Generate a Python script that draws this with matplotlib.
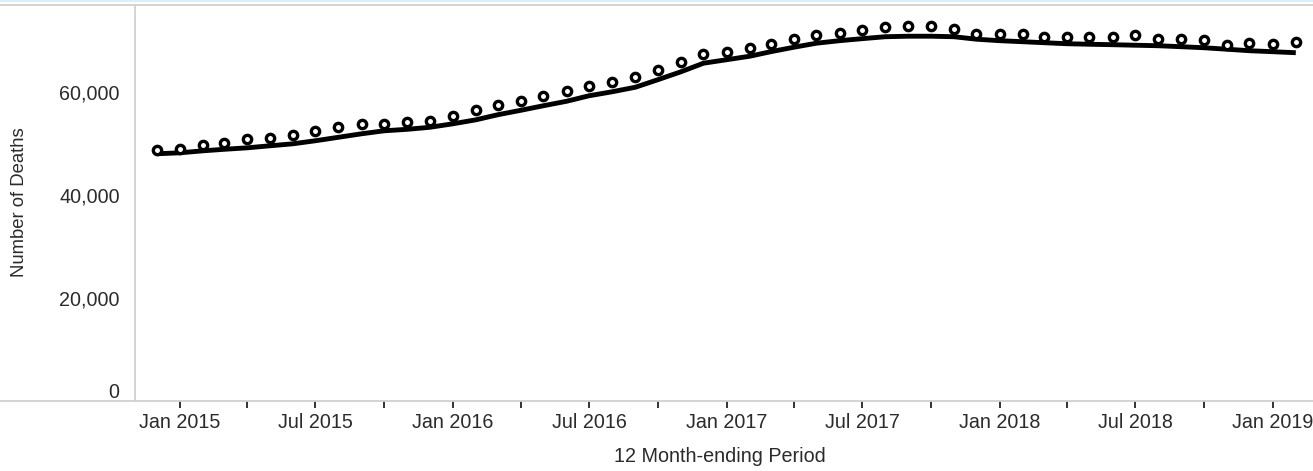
import matplotlib
matplotlib.use("Agg")
import matplotlib.pyplot as plt
import matplotlib.dates as mdates
import matplotlib.transforms as mtransforms
from matplotlib.lines import Line2D
import numpy as np
import pandas as pd

plt.rcParams['font.family'] = ['Liberation Sans', 'DejaVu Sans']

# 12 month-ending periods (Dec 2014 .. Feb 2019)
months = pd.date_range("2014-12-01", "2019-02-01", freq="MS")

# circles (predicted)
predicted = [48710, 49040, 49820, 50150, 50930, 51120, 51760, 52410, 53260, 53900,
             53900, 54160, 54490, 55460, 56630, 57600, 58240, 59220, 60330, 61300,
             61940, 62990, 64280, 65830, 67530, 67920, 68640, 69410, 70390, 71220,
             71550, 72060, 72720, 72980, 72840, 72390, 71420, 71420, 71420, 70780,
             70780, 70780, 70780, 71220, 70390, 70390, 70110, 69280, 69610, 69470,
             69730]

# line (reported)
reported = [48070, 48260, 48650, 48940, 49230, 49620, 50010, 50600, 51280, 51960,
            52540, 52830, 53220, 53900, 54680, 55660, 56530, 57410, 58280, 59350,
            60130, 61010, 62470, 64020, 65680, 66360, 67040, 67920, 68790, 69570,
            70060, 70450, 70830, 70930, 70930, 70830, 70350, 70060, 69860, 69670,
            69470, 69370, 69280, 69180, 69080, 68890, 68690, 68400, 68110, 67920,
            67720]

y_ticks = [0, 20000, 40000, 60000]
y_tick_labels = ["0", "20,000", "40,000", "60,000"]

W, H = 1313, 471
fig = plt.figure(figsize=(W / 100, H / 100), dpi=100)
ax = fig.add_axes([135 / W, 1 - 401 / H, (W - 135) / W, (401 - 5) / H])

ax.plot(months, reported, color="black", lw=3.5, solid_capstyle="butt", zorder=2)
ax.plot(months, predicted, linestyle="none", marker="o", ms=6.0, mew=2.4,
        mec="black", mfc="white", zorder=3)

ax.set_ylim(0, 77000)
ax.set_xlim(pd.Timestamp("2014-11-02"), pd.Timestamp("2019-02-24"))

ax.set_yticks(y_ticks)
ax.set_yticklabels(y_tick_labels)
ax.tick_params(axis="y", length=0, pad=11, labelsize=14.2, labelcolor="#2b2b2b")

ax.xaxis.set_major_locator(mdates.MonthLocator(bymonth=[1, 7]))
ax.xaxis.set_major_formatter(mdates.DateFormatter("%b %Y"))
ax.xaxis.set_minor_locator(mdates.MonthLocator(bymonth=[4, 10]))
ax.tick_params(axis="x", which="both", length=5, width=1.4, color="#333333",
               direction="out")
ax.tick_params(axis="x", which="major", pad=4, labelsize=14.2, labelcolor="#2b2b2b")

# shift the "0" label up as in reference
zero_lbl = ax.get_yticklabels()[0]
zero_lbl.set_transform(zero_lbl.get_transform() +
                       mtransforms.ScaledTranslation(0, 11 / 100, fig.dpi_scale_trans))

for s in ["top", "right"]:
    ax.spines[s].set_visible(False)
ax.spines["left"].set_color("#d0d0d0")
ax.spines["left"].set_linewidth(1.3)
ax.spines["bottom"].set_visible(False)

# full-width horizontal rules
fig.add_artist(Line2D([0, 1], [1 - 400.5 / H, 1 - 400.5 / H], color="#d0d0d0", lw=1.3,
                      transform=fig.transFigure))
fig.add_artist(Line2D([0, 1], [1 - 5 / H, 1 - 5 / H], color="#d0d0d0", lw=1.3,
                      transform=fig.transFigure))
fig.add_artist(Line2D([0, 1], [1 - 0.8 / H, 1 - 0.8 / H], color="#dbeefb", lw=1.5,
                      transform=fig.transFigure))

fig.text(720 / W, 1 - 457 / H, "12 Month-ending Period", ha="center", va="center",
         fontsize=14.2, color="#2b2b2b")
fig.text(20 / W, 1 - 202 / H, "Number of Deaths", ha="center", va="center",
         rotation=90, fontsize=13.3, color="#2b2b2b")

fig.savefig("out.png", dpi=100, facecolor="white")
